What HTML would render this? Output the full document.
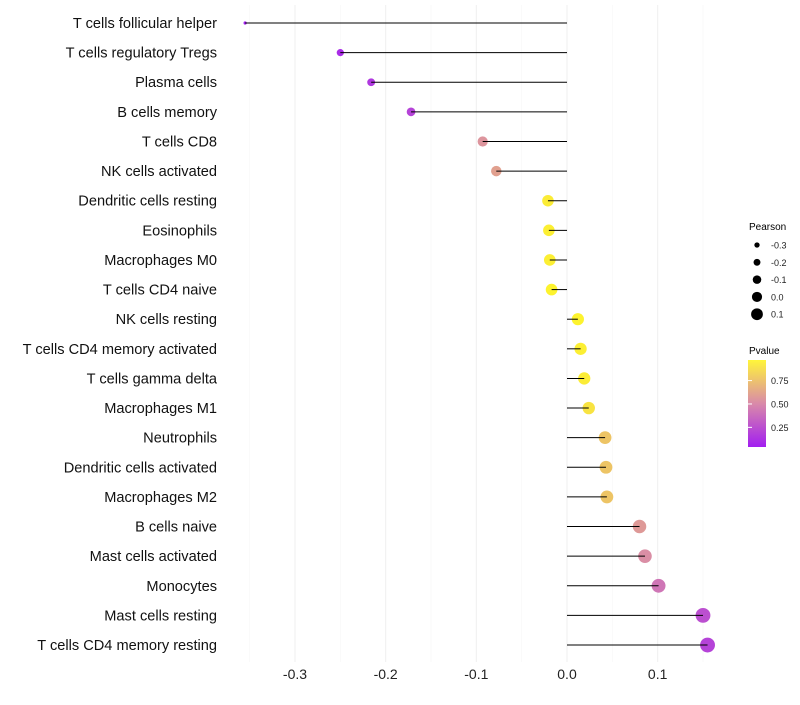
<!DOCTYPE html>
<html><head><meta charset="utf-8"><style>body{margin:0;background:#fff}svg{font-family:"Liberation Sans",sans-serif}</style></head>
<body>
<svg id="chart" width="800" height="700">
<defs><linearGradient id="pg" x1="0" y1="1" x2="0" y2="0">
<stop offset="0" stop-color="#a21ef0"/><stop offset="0.5" stop-color="#d98aa9"/><stop offset="1" stop-color="#fff53a"/></linearGradient></defs>
<g id="grid"></g><g id="pts"></g><g id="marks"></g><g id="labels"></g>
<g>
<text x="749" y="230" font-size="10">Pearson</text>
<g id="sizeLeg"></g>
<text x="749" y="354" font-size="10">Pvalue</text>
<rect x="748" y="360" width="18" height="87" fill="url(#pg)"/>
<g id="colLeg"></g>
</g>
</svg>
<script>
const categories=["T cells follicular helper","T cells regulatory  Tregs","Plasma cells","B cells memory","T cells CD8","NK cells activated","Dendritic cells resting","Eosinophils","Macrophages M0","T cells CD4 naive","NK cells resting","T cells CD4 memory activated","T cells gamma delta","Macrophages M1","Neutrophils","Dendritic cells activated","Macrophages M2","B cells naive","Mast cells activated","Monocytes","Mast cells resting","T cells CD4 memory resting"];
const pearson=[-0.355,-0.250,-0.216,-0.172,-0.093,-0.078,-0.021,-0.020,-0.019,-0.017,0.012,0.015,0.019,0.024,0.042,0.043,0.044,0.080,0.086,0.101,0.150,0.155];
const pvalue=[0.02,0.10,0.15,0.20,0.55,0.60,0.92,0.93,0.93,0.95,0.95,0.93,0.92,0.88,0.75,0.75,0.75,0.57,0.52,0.42,0.25,0.20];
const xTicks=[-0.3,-0.2,-0.1,0.0,0.1];
const xTickLabels=["-0.3","-0.2","-0.1","0.0","0.1"];
const sizeLegVals=[-0.3,-0.2,-0.1,0.0,0.1];
const colLegVals=[0.25,0.50,0.75];
const NS="http://www.w3.org/2000/svg";
const x=v=>567+v*906.7;
const y=i=>23+i*29.62;
const r=v=>v<-0.3?1.6:3.6+(v+0.25)*9.5;
const cy=p=>447-(p-0.04)/0.93*87;
function lerp(a,b,t){return a.map((c,i)=>Math.round(c+(b[i]-c)*t));}
function col(p){const lo=[162,30,240],mid=[217,138,169],hi=[255,248,40];
 const t=Math.max(0,Math.min(1,(p-0.04)/0.93));const c=t<0.5?lerp(lo,mid,t*2):lerp(mid,hi,(t-0.5)*2);return `rgb(${c})`;}
function mk(tag,at,par){const e=document.createElementNS(NS,tag);for(const k in at)e.setAttribute(k,at[k]);document.getElementById(par).appendChild(e);return e;}
for(let v=-0.35;v<=0.151;v+=0.05){const maj=Math.abs(Math.round(v*100))%10===0;const g=mk('line',{x1:x(v),x2:x(v),y1:5,y2:662,stroke:maj?'#efefef':'#f7f7f7','stroke-width':maj?1:0.6},'grid');

}
xTicks.forEach((v,i)=>{const t=mk('text',{x:x(v),y:679,'font-size':14,'text-anchor':'middle',fill:'#222'},'labels');t.textContent=xTickLabels[i];

});
categories.forEach((c,i)=>{
 const t=mk('text',{x:217,y:y(i)+5,'font-size':14.6,'text-anchor':'end',fill:'#111','xml:space':'preserve'},'labels');t.textContent=c;
 
 
 const p=mk('circle',{cx:x(pearson[i]),cy:y(i),r:r(pearson[i]),fill:col(pvalue[i])},'pts');
 
 
 const l=mk('line',{x1:x(0),x2:x(pearson[i]),y1:y(i),y2:y(i),stroke:'#000','stroke-width':1},'marks');
 
 
});
sizeLegVals.forEach((v,i)=>{const yy=245+i*17.3;
 const c=mk('circle',{cx:757,cy:yy,r:r(v)*0.85,fill:'#000'},'sizeLeg');
 
 
 const t=mk('text',{x:771,y:yy+3.5,'font-size':9,fill:'#222'},'sizeLeg');t.textContent=v.toFixed(1);
 
 });
colLegVals.forEach(v=>{const yy=cy(v);
 const l=mk('line',{x1:748,x2:752,y1:yy,y2:yy,stroke:'#fff'},'colLeg');
 
 
 const t=mk('text',{x:771,y:yy+3.5,'font-size':9,fill:'#222'},'colLeg');t.textContent=v.toFixed(2);
 
 });
</script>
</body></html>
